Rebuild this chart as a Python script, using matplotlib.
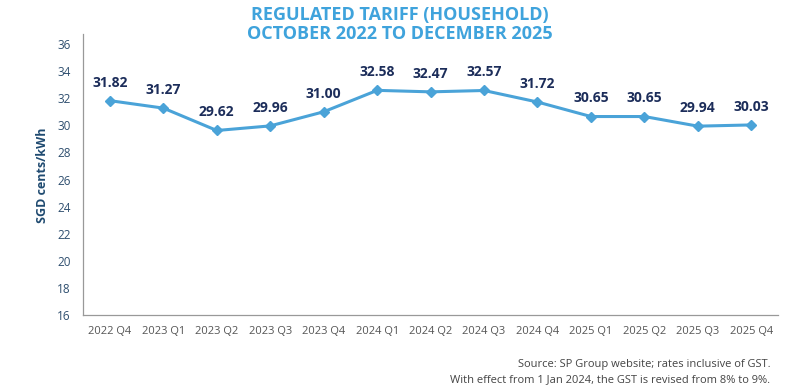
import matplotlib.pyplot as plt

# data
quarters = ['2022 Q4', '2023 Q1', '2023 Q2', '2023 Q3', '2023 Q4', '2024 Q1', '2024 Q2',
            '2024 Q3', '2024 Q4', '2025 Q1', '2025 Q2', '2025 Q3', '2025 Q4']
tariff = [31.82, 31.27, 29.62, 29.96, 31.00, 32.58, 32.47, 32.57, 31.72, 30.65, 30.65, 29.94, 30.03]
y_ticks = [16, 18, 20, 22, 24, 26, 28, 30, 32, 34, 36]

line_col = '#4aa3d8'
navy = '#1c2d5a'
tick_col = '#2f4f6f'

plt.rcParams['font.family'] = ['Open Sans', 'DejaVu Sans']

fig = plt.figure(figsize=(8, 3.92), dpi=100)
ax = fig.add_axes([0.104, 0.196, 0.8685, 0.716])

x = list(range(len(quarters)))
ax.plot(x, tariff, color=line_col, lw=2.2, marker='D', ms=5, mfc=line_col, mec=line_col)

for i, v in enumerate(tariff):
    ax.annotate(f'{v:.2f}', (i, v), xytext=(0, 8), textcoords='offset points',
                ha='center', va='bottom', fontsize=10, fontweight='bold', color=navy)

ax.set_xlim(-0.5, len(quarters) - 0.5)
ax.set_ylim(16, 36.7)
ax.set_yticks(y_ticks)
ax.set_xticks(x)
ax.set_xticklabels(quarters)
ax.tick_params(axis='both', length=0, labelsize=8, colors='#555555')
ax.tick_params(axis='y', labelcolor=tick_col, labelsize=8.5, pad=9)
ax.tick_params(axis='x', pad=8)

for s in ['top', 'right']:
    ax.spines[s].set_visible(False)
for s in ['left', 'bottom']:
    ax.spines[s].set_color('#999999')
    ax.spines[s].set_linewidth(0.9)

ax.set_ylabel('SGD cents/kWh', fontsize=9, fontweight='bold', color='#1f4a70', labelpad=6)

fig.text(0.5, 0.962, 'REGULATED TARIFF (HOUSEHOLD)', ha='center', va='center',
         fontsize=13, fontweight='bold', color='#3fa3dc')
fig.text(0.5, 0.912, 'OCTOBER 2022 TO DECEMBER 2025', ha='center', va='center',
         fontsize=13, fontweight='bold', color='#3fa3dc')

fig.text(0.963, 0.069, 'Source: SP Group website; rates inclusive of GST.',
         ha='right', va='center', fontsize=8, color='#444444')
fig.text(0.963, 0.031, 'With effect from 1 Jan 2024, the GST is revised from 8% to 9%.',
         ha='right', va='center', fontsize=8, color='#444444')

fig.savefig('out.png', dpi=100)
